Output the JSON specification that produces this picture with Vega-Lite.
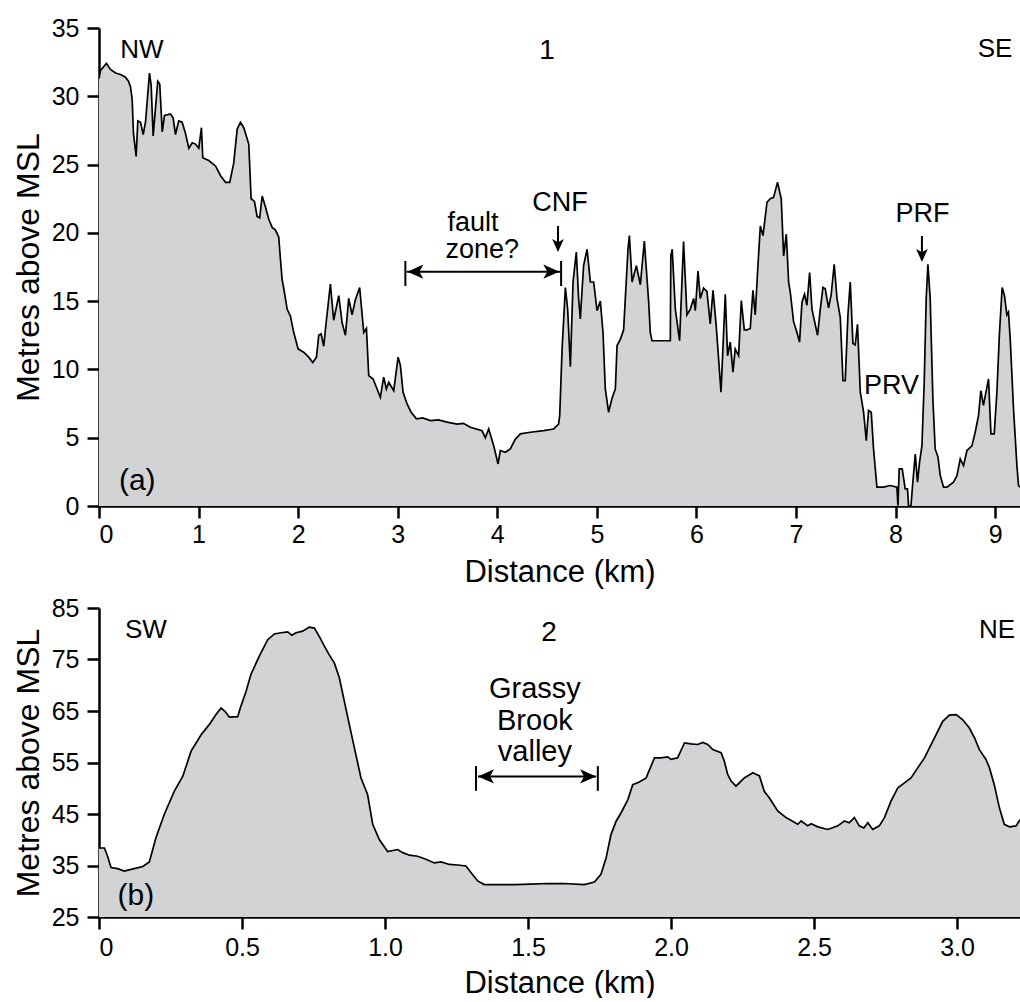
{
  "$schema": "https://vega.github.io/schema/vega-lite/v6.json",
  "background": "white",
  "padding": {"left": 12, "top": 16, "right": 0, "bottom": 0},
  "spacing": 9,
  "config": {
    "font": "Liberation Sans",
    "view": {"stroke": null},
    "axis": {
      "domainColor": "black", "domainWidth": 2.5, "tickColor": "black", "tickWidth": 2.5, "tickSize": 12,
      "labelColor": "black", "labelFontSize": 25, "labelFont": "Liberation Sans",
      "titleColor": "black", "titleFontSize": 31, "titleFontWeight": "normal", "titleFont": "Liberation Sans",
      "grid": false
    },
    "axisY": {"titleFontSize": 32},
    "text": {"font": "Liberation Sans", "color": "black", "baseline": "alphabetic"}
  },
  "datasets": {
    "profileA": [
      {"km":0,"elev":31.3},{"km":0.015,"elev":31.9},{"km":0.075,"elev":32.4},{"km":0.115,"elev":31.96},{"km":0.166,"elev":31.7},{"km":0.216,"elev":31.6},{"km":0.266,"elev":31.4},{"km":0.296,"elev":31.1},{"km":0.316,"elev":30.7},{"km":0.333,"elev":29.8},{"km":0.346,"elev":27.3},{"km":0.373,"elev":25.6},{"km":0.39,"elev":28.2},{"km":0.417,"elev":28.1},{"km":0.444,"elev":27.2},{"km":0.467,"elev":28.1},{"km":0.507,"elev":31.7},{"km":0.524,"elev":30.8},{"km":0.544,"elev":27.1},{"km":0.567,"elev":29.1},{"km":0.59,"elev":31.1},{"km":0.61,"elev":30.9},{"km":0.635,"elev":27.4},{"km":0.658,"elev":28.6},{"km":0.718,"elev":28.7},{"km":0.745,"elev":28.4},{"km":0.768,"elev":27.2},{"km":0.801,"elev":28.2},{"km":0.835,"elev":28.1},{"km":0.868,"elev":27.3},{"km":0.902,"elev":26.2},{"km":0.936,"elev":26.6},{"km":0.969,"elev":26.5},{"km":1.002,"elev":26.2},{"km":1.029,"elev":27.7},{"km":1.042,"elev":25.5},{"km":1.102,"elev":25.3},{"km":1.17,"elev":24.9},{"km":1.22,"elev":24.2},{"km":1.27,"elev":23.7},{"km":1.313,"elev":23.7},{"km":1.353,"elev":25.1},{"km":1.388,"elev":27.6},{"km":1.421,"elev":28.1},{"km":1.454,"elev":27.7},{"km":1.504,"elev":26.5},{"km":1.528,"elev":22.5},{"km":1.561,"elev":22.3},{"km":1.588,"elev":21.2},{"km":1.614,"elev":21.1},{"km":1.639,"elev":22.7},{"km":1.672,"elev":21.9},{"km":1.705,"elev":21.0},{"km":1.739,"elev":20.4},{"km":1.772,"elev":20.2},{"km":1.805,"elev":19.7},{"km":1.822,"elev":18.1},{"km":1.839,"elev":16.6},{"km":1.862,"elev":15.65},{"km":1.89,"elev":14.4},{"km":1.923,"elev":13.9},{"km":1.956,"elev":12.7},{"km":2.0,"elev":11.5},{"km":2.056,"elev":11.26},{"km":2.106,"elev":10.9},{"km":2.147,"elev":10.5},{"km":2.184,"elev":10.9},{"km":2.207,"elev":12.5},{"km":2.231,"elev":12.6},{"km":2.257,"elev":11.7},{"km":2.284,"elev":13.6},{"km":2.324,"elev":16.25},{"km":2.357,"elev":13.6},{"km":2.408,"elev":15.4},{"km":2.442,"elev":13.4},{"km":2.475,"elev":12.5},{"km":2.508,"elev":15.2},{"km":2.542,"elev":14.0},{"km":2.575,"elev":15.1},{"km":2.618,"elev":16.0},{"km":2.659,"elev":12.7},{"km":2.686,"elev":13.0},{"km":2.709,"elev":9.55},{"km":2.753,"elev":9.3},{"km":2.793,"elev":8.57},{"km":2.826,"elev":7.96},{"km":2.859,"elev":9.43},{"km":2.886,"elev":8.57},{"km":2.91,"elev":9.06},{"km":2.96,"elev":8.45},{"km":3.004,"elev":10.9},{"km":3.027,"elev":10.3},{"km":3.054,"elev":8.33},{"km":3.094,"elev":7.47},{"km":3.135,"elev":6.87},{"km":3.188,"elev":6.38},{"km":3.25,"elev":6.45},{"km":3.328,"elev":6.25},{"km":3.41,"elev":6.3},{"km":3.496,"elev":6.14},{"km":3.596,"elev":6.0},{"km":3.66,"elev":6.05},{"km":3.73,"elev":5.77},{"km":3.847,"elev":5.52},{"km":3.88,"elev":5.0},{"km":3.914,"elev":5.64},{"km":3.964,"elev":4.42},{"km":4.008,"elev":3.08},{"km":4.031,"elev":4.06},{"km":4.081,"elev":3.94},{"km":4.131,"elev":4.18},{"km":4.182,"elev":4.9},{"km":4.232,"elev":5.28},{"km":4.332,"elev":5.4},{"km":4.466,"elev":5.52},{"km":4.566,"elev":5.64},{"km":4.616,"elev":6.0},{"km":4.627,"elev":6.62},{"km":4.651,"elev":11.5},{"km":4.684,"elev":16.0},{"km":4.707,"elev":14.4},{"km":4.734,"elev":10.2},{"km":4.761,"elev":16.4},{"km":4.794,"elev":18.6},{"km":4.817,"elev":15.2},{"km":4.834,"elev":13.7},{"km":4.867,"elev":17.6},{"km":4.902,"elev":18.8},{"km":4.935,"elev":16.4},{"km":4.968,"elev":16.4},{"km":5.002,"elev":14.3},{"km":5.035,"elev":15.0},{"km":5.062,"elev":12.7},{"km":5.085,"elev":8.57},{"km":5.118,"elev":6.87},{"km":5.153,"elev":7.9},{"km":5.186,"elev":8.57},{"km":5.203,"elev":11.75},{"km":5.236,"elev":12.2},{"km":5.269,"elev":12.9},{"km":5.286,"elev":15.2},{"km":5.313,"elev":18.8},{"km":5.327,"elev":19.8},{"km":5.354,"elev":16.4},{"km":5.397,"elev":17.6},{"km":5.437,"elev":16.2},{"km":5.477,"elev":19.4},{"km":5.52,"elev":15.0},{"km":5.537,"elev":12.7},{"km":5.554,"elev":12.1},{"km":5.738,"elev":12.1},{"km":5.743,"elev":18.3},{"km":5.757,"elev":18.8},{"km":5.788,"elev":14.43},{"km":5.831,"elev":12.1},{"km":5.871,"elev":19.36},{"km":5.905,"elev":14.0},{"km":5.938,"elev":14.4},{"km":5.972,"elev":15.2},{"km":5.989,"elev":14.3},{"km":6.016,"elev":17.2},{"km":6.039,"elev":15.2},{"km":6.072,"elev":15.96},{"km":6.106,"elev":15.7},{"km":6.139,"elev":13.33},{"km":6.167,"elev":15.8},{"km":6.2,"elev":13.1},{"km":6.247,"elev":8.33},{"km":6.29,"elev":15.5},{"km":6.313,"elev":11.0},{"km":6.34,"elev":12.0},{"km":6.367,"elev":9.8},{"km":6.39,"elev":11.5},{"km":6.424,"elev":11.0},{"km":6.451,"elev":15.04},{"km":6.481,"elev":12.9},{"km":6.508,"elev":12.9},{"km":6.541,"elev":13.0},{"km":6.568,"elev":15.8},{"km":6.591,"elev":14.0},{"km":6.614,"elev":17.1},{"km":6.642,"elev":20.5},{"km":6.669,"elev":19.8},{"km":6.709,"elev":22.24},{"km":6.742,"elev":22.5},{"km":6.775,"elev":22.6},{"km":6.815,"elev":23.7},{"km":6.852,"elev":22.5},{"km":6.876,"elev":18.3},{"km":6.903,"elev":19.9},{"km":6.926,"elev":16.4},{"km":6.943,"elev":15.65},{"km":6.976,"elev":13.5},{"km":7.01,"elev":12.7},{"km":7.036,"elev":12.0},{"km":7.06,"elev":14.9},{"km":7.086,"elev":15.5},{"km":7.11,"elev":14.7},{"km":7.137,"elev":17.1},{"km":7.161,"elev":14.4},{"km":7.184,"elev":13.6},{"km":7.217,"elev":12.5},{"km":7.244,"elev":14.4},{"km":7.271,"elev":16.0},{"km":7.294,"elev":15.9},{"km":7.327,"elev":14.5},{"km":7.354,"elev":15.5},{"km":7.384,"elev":17.7},{"km":7.412,"elev":15.2},{"km":7.445,"elev":13.8},{"km":7.472,"elev":9.18},{"km":7.495,"elev":9.18},{"km":7.522,"elev":14.0},{"km":7.545,"elev":16.4},{"km":7.572,"elev":11.9},{"km":7.595,"elev":11.8},{"km":7.618,"elev":13.3},{"km":7.646,"elev":8.33},{"km":7.679,"elev":6.87},{"km":7.706,"elev":4.79},{"km":7.729,"elev":6.99},{"km":7.756,"elev":6.87},{"km":7.779,"elev":4.18},{"km":7.813,"elev":1.38},{"km":7.88,"elev":1.38},{"km":7.947,"elev":1.5},{"km":8.014,"elev":1.38},{"km":8.024,"elev":0.03},{"km":8.037,"elev":2.72},{"km":8.067,"elev":2.72},{"km":8.097,"elev":1.26},{"km":8.12,"elev":1.26},{"km":8.131,"elev":0},{"km":8.155,"elev":0},{"km":8.171,"elev":1.5},{"km":8.198,"elev":3.8},{"km":8.221,"elev":1.75},{"km":8.241,"elev":3.2},{"km":8.265,"elev":4.4},{"km":8.288,"elev":9.06},{"km":8.308,"elev":15.2},{"km":8.325,"elev":17.7},{"km":8.348,"elev":15.2},{"km":8.375,"elev":7.84},{"km":8.398,"elev":4.18},{"km":8.426,"elev":3.6},{"km":8.449,"elev":2.23},{"km":8.482,"elev":1.38},{"km":8.516,"elev":1.38},{"km":8.582,"elev":1.74},{"km":8.617,"elev":2.23},{"km":8.65,"elev":3.45},{"km":8.683,"elev":2.96},{"km":8.717,"elev":4.06},{"km":8.767,"elev":4.4},{"km":8.8,"elev":5.4},{"km":8.833,"elev":6.6},{"km":8.857,"elev":8.45},{"km":8.883,"elev":7.37},{"km":8.911,"elev":8.45},{"km":8.934,"elev":9.3},{"km":8.958,"elev":5.28},{"km":8.991,"elev":5.28},{"km":9.018,"elev":8.33},{"km":9.044,"elev":12.7},{"km":9.071,"elev":16.0},{"km":9.094,"elev":15.4},{"km":9.118,"elev":14.0},{"km":9.134,"elev":14.2},{"km":9.152,"elev":12.2},{"km":9.185,"elev":7.1},{"km":9.219,"elev":2.96},{"km":9.235,"elev":1.5},{"km":9.25,"elev":1.38}
    ],
    "profileB": [
      {"km":0,"elev":38.4},{"km":0.019,"elev":38.4},{"km":0.03,"elev":36.8},{"km":0.042,"elev":34.6},{"km":0.065,"elev":34.4},{"km":0.088,"elev":33.9},{"km":0.123,"elev":34.4},{"km":0.153,"elev":34.8},{"km":0.176,"elev":35.67},{"km":0.199,"elev":40.4},{"km":0.228,"elev":44.9},{"km":0.263,"elev":49.4},{"km":0.293,"elev":52.35},{"km":0.322,"elev":57.2},{"km":0.357,"elev":60.4},{"km":0.386,"elev":62.4},{"km":0.409,"elev":64.3},{"km":0.427,"elev":65.6},{"km":0.441,"elev":64.9},{"km":0.456,"elev":63.8},{"km":0.485,"elev":63.9},{"km":0.494,"elev":65.6},{"km":0.514,"elev":68.8},{"km":0.531,"elev":72.1},{"km":0.56,"elev":75.6},{"km":0.59,"elev":78.85},{"km":0.613,"elev":79.96},{"km":0.636,"elev":80.2},{"km":0.66,"elev":80.35},{"km":0.674,"elev":79.7},{"km":0.689,"elev":80.2},{"km":0.712,"elev":80.5},{"km":0.735,"elev":81.3},{"km":0.753,"elev":81.1},{"km":0.77,"elev":79.5},{"km":0.788,"elev":77.6},{"km":0.805,"elev":75.9},{"km":0.823,"elev":74.3},{"km":0.84,"elev":71.5},{"km":0.87,"elev":63.7},{"km":0.893,"elev":57.8},{"km":0.916,"elev":52.0},{"km":0.939,"elev":48.8},{"km":0.957,"elev":43.0},{"km":0.98,"elev":40.05},{"km":1.009,"elev":37.7},{"km":1.044,"elev":38.1},{"km":1.062,"elev":37.5},{"km":1.085,"elev":37.0},{"km":1.114,"elev":36.8},{"km":1.143,"elev":36.2},{"km":1.172,"elev":35.5},{"km":1.196,"elev":35.7},{"km":1.225,"elev":35.2},{"km":1.254,"elev":35.1},{"km":1.283,"elev":34.9},{"km":1.301,"elev":33.6},{"km":1.324,"elev":32.0},{"km":1.347,"elev":31.3},{"km":1.394,"elev":31.3},{"km":1.452,"elev":31.3},{"km":1.51,"elev":31.4},{"km":1.569,"elev":31.5},{"km":1.627,"elev":31.5},{"km":1.697,"elev":31.3},{"km":1.732,"elev":31.8},{"km":1.755,"elev":33.3},{"km":1.773,"elev":36.5},{"km":1.79,"elev":41.0},{"km":1.808,"elev":43.6},{"km":1.825,"elev":45.2},{"km":1.849,"elev":47.8},{"km":1.866,"elev":50.7},{"km":1.889,"elev":51.2},{"km":1.913,"elev":52.0},{"km":1.918,"elev":52.7},{"km":1.942,"elev":55.9},{"km":1.965,"elev":55.9},{"km":1.988,"elev":56.1},{"km":2.0,"elev":55.6},{"km":2.023,"elev":55.9},{"km":2.047,"elev":58.8},{"km":2.07,"elev":58.6},{"km":2.093,"elev":58.5},{"km":2.111,"elev":58.9},{"km":2.128,"elev":58.5},{"km":2.146,"elev":57.5},{"km":2.175,"elev":56.9},{"km":2.186,"elev":55.3},{"km":2.198,"elev":52.7},{"km":2.21,"elev":51.4},{"km":2.227,"elev":50.4},{"km":2.256,"elev":52.0},{"km":2.286,"elev":53.0},{"km":2.309,"elev":52.4},{"km":2.326,"elev":49.4},{"km":2.344,"elev":48.1},{"km":2.373,"elev":45.6},{"km":2.402,"elev":44.3},{"km":2.443,"elev":43.0},{"km":2.455,"elev":43.65},{"km":2.478,"elev":42.7},{"km":2.49,"elev":43.1},{"km":2.513,"elev":42.5},{"km":2.548,"elev":42.0},{"km":2.583,"elev":42.7},{"km":2.606,"elev":43.65},{"km":2.623,"elev":43.3},{"km":2.641,"elev":44.3},{"km":2.658,"elev":42.7},{"km":2.674,"elev":42.3},{"km":2.688,"elev":43.3},{"km":2.705,"elev":42.0},{"km":2.728,"elev":42.7},{"km":2.746,"elev":44.3},{"km":2.769,"elev":47.5},{"km":2.793,"elev":50.1},{"km":2.816,"elev":51.05},{"km":2.839,"elev":52.0},{"km":2.863,"elev":54.0},{"km":2.886,"elev":55.9},{"km":2.921,"elev":59.8},{"km":2.95,"elev":63.0},{"km":2.973,"elev":64.2},{"km":2.997,"elev":64.3},{"km":3.02,"elev":63.3},{"km":3.043,"elev":61.7},{"km":3.061,"elev":59.8},{"km":3.078,"elev":57.5},{"km":3.101,"elev":55.6},{"km":3.113,"elev":54.0},{"km":3.13,"elev":50.7},{"km":3.148,"elev":46.2},{"km":3.165,"elev":43.0},{"km":3.183,"elev":42.5},{"km":3.206,"elev":42.7},{"km":3.22,"elev":43.9}
    ]
  },
  "vconcat": [
    {
      "width": 921,
      "height": 478,
      "layer": [
        {
          "data": {"name": "profileA"},
          "mark": {"type": "area", "color": "#d1d3d4", "clip": true},
          "encoding": {
            "x": {"field": "km", "type": "quantitative", "scale": {"domain": [0, 9.25], "nice": false, "zero": false},
                  "axis": {"title": "Distance (km)", "values": [0,1,2,3,4,5,6,7,8,9], "format": "d", "labelPadding": 4, "titlePadding": 10}},
            "y": {"field": "elev", "type": "quantitative", "scale": {"domain": [0, 35], "nice": false},
                  "axis": {"title": "Metres above MSL", "values": [0,5,10,15,20,25,30,35], "format": "d", "labelPadding": 8, "titlePadding": 6}}
          }
        },
        {
          "data": {"name": "profileA"},
          "mark": {"type": "line", "color": "black", "strokeWidth": 1.7, "clip": true},
          "encoding": {
            "x": {"field": "km", "type": "quantitative"},
            "y": {"field": "elev", "type": "quantitative"}
          }
        },
        {
          "mark": {"type": "rule", "color": "black", "strokeWidth": 2.5},
          "encoding": {"y": {"datum": 35, "type": "quantitative"}}
        },
        {
          "data": {"values": [{"km":0.43,"elev":32.78,"label":"NW"},{"km":9.0,"elev":32.85,"label":"SE"}]},
          "mark": {"type": "text", "fontSize": 26, "align": "center"},
          "encoding": {"x": {"field": "km", "type": "quantitative"}, "y": {"field": "elev", "type": "quantitative"}, "text": {"field": "label"}}
        },
        {
          "data": {"values": [{"km":4.5,"elev":32.73,"label":"1"}]},
          "mark": {"type": "text", "fontSize": 28, "align": "center"},
          "encoding": {"x": {"field": "km", "type": "quantitative"}, "y": {"field": "elev", "type": "quantitative"}, "text": {"field": "label"}}
        },
        {
          "data": {"values": [{"km":4.63,"elev":21.63,"label":"CNF"},{"km":8.27,"elev":20.82,"label":"PRF"},{"km":7.96,"elev":8.21,"label":"PRV"}]},
          "mark": {"type": "text", "fontSize": 27, "align": "center"},
          "encoding": {"x": {"field": "km", "type": "quantitative"}, "y": {"field": "elev", "type": "quantitative"}, "text": {"field": "label"}}
        },
        {
          "data": {"values": [{"km":3.5,"elev":20.16,"label":"fault"},{"km":3.48,"elev":18.16,"label":"zone?"}]},
          "mark": {"type": "text", "fontSize": 27, "align": "left"},
          "encoding": {"x": {"field": "km", "type": "quantitative"}, "y": {"field": "elev", "type": "quantitative"}, "text": {"field": "label"}}
        },
        {
          "data": {"values": [{"km":0.384,"elev":1.2,"label":"(a)"}]},
          "mark": {"type": "text", "fontSize": 30, "align": "center"},
          "encoding": {"x": {"field": "km", "type": "quantitative"}, "y": {"field": "elev", "type": "quantitative"}, "text": {"field": "label"}}
        },
        {
          "data": {"values": [
            {"km":3.09,"elev":17.16,"km2":4.63,"elev2":17.16},
            {"km":3.077,"elev":17.94,"km2":3.077,"elev2":16.11},
            {"km":4.641,"elev":17.94,"km2":4.641,"elev2":16.11},
            {"km":4.61,"elev":20.5,"km2":4.61,"elev2":18.9},
            {"km":8.265,"elev":19.77,"km2":8.265,"elev2":18.2}
          ]},
          "mark": {"type": "rule", "color": "black", "strokeWidth": 2},
          "encoding": {"x": {"field": "km", "type": "quantitative"}, "x2": {"field": "km2"}, "y": {"field": "elev", "type": "quantitative"}, "y2": {"field": "elev2"}}
        },
        {
          "data": {"values": [{"km":3.097,"elev":17.16}]},
          "mark": {"type": "point", "shape": "M0,0L2,-0.9L1.5,0L2,0.9Z", "filled": true, "color": "black", "opacity": 1, "size": 256, "strokeWidth": 0},
          "encoding": {"x": {"field": "km", "type": "quantitative"}, "y": {"field": "elev", "type": "quantitative"}}
        },
        {
          "data": {"values": [{"km":4.623,"elev":17.16}]},
          "mark": {"type": "point", "shape": "M0,0L-2,-0.9L-1.5,0L-2,0.9Z", "filled": true, "color": "black", "opacity": 1, "size": 256, "strokeWidth": 0},
          "encoding": {"x": {"field": "km", "type": "quantitative"}, "y": {"field": "elev", "type": "quantitative"}}
        },
        {
          "data": {"values": [{"km":4.61,"elev":18.6},{"km":8.265,"elev":17.87}]},
          "mark": {"type": "point", "shape": "M0,0L-0.9,-2L0,-1.5L0.9,-2Z", "filled": true, "color": "black", "opacity": 1, "size": 169, "strokeWidth": 0},
          "encoding": {"x": {"field": "km", "type": "quantitative"}, "y": {"field": "elev", "type": "quantitative"}}
        }
      ]
    },
    {
      "width": 921,
      "height": 309,
      "layer": [
        {
          "data": {"name": "profileB"},
          "mark": {"type": "area", "color": "#d1d3d4", "clip": true},
          "encoding": {
            "x": {"field": "km", "type": "quantitative", "scale": {"domain": [0, 3.22], "nice": false, "zero": false},
                  "axis": {"title": "Distance (km)", "values": [0,0.5,1,1.5,2,2.5,3], "labelExpr": "datum.value == 0 ? '0' : format(datum.value, '.1f')", "labelPadding": 6, "titlePadding": 8}},
            "y": {"field": "elev", "type": "quantitative", "scale": {"domain": [25, 85], "nice": false, "zero": false},
                  "axis": {"title": "Metres above MSL", "values": [25,35,45,55,65,75,85], "format": "d", "labelPadding": 8, "titlePadding": 6}}
          }
        },
        {
          "data": {"name": "profileB"},
          "mark": {"type": "line", "color": "black", "strokeWidth": 1.7, "clip": true},
          "encoding": {
            "x": {"field": "km", "type": "quantitative"},
            "y": {"field": "elev", "type": "quantitative"}
          }
        },
        {
          "mark": {"type": "rule", "color": "black", "strokeWidth": 2.5},
          "encoding": {"y": {"datum": 85, "type": "quantitative"}}
        },
        {
          "data": {"values": [{"km":0.164,"elev":79.18,"label":"SW"},{"km":3.14,"elev":79.18,"label":"NE"}]},
          "mark": {"type": "text", "fontSize": 26, "align": "center"},
          "encoding": {"x": {"field": "km", "type": "quantitative"}, "y": {"field": "elev", "type": "quantitative"}, "text": {"field": "label"}}
        },
        {
          "data": {"values": [{"km":1.573,"elev":78.54,"label":"2"}]},
          "mark": {"type": "text", "fontSize": 28, "align": "center"},
          "encoding": {"x": {"field": "km", "type": "quantitative"}, "y": {"field": "elev", "type": "quantitative"}, "text": {"field": "label"}}
        },
        {
          "data": {"values": [{"km":1.524,"elev":67.54,"label":"Grassy"},{"km":1.524,"elev":61.4,"label":"Brook"},{"km":1.524,"elev":55.26,"label":"valley"}]},
          "mark": {"type": "text", "fontSize": 29, "align": "center"},
          "encoding": {"x": {"field": "km", "type": "quantitative"}, "y": {"field": "elev", "type": "quantitative"}, "text": {"field": "label"}}
        },
        {
          "data": {"values": [{"km":0.129,"elev":27.25,"label":"(b)"}]},
          "mark": {"type": "text", "fontSize": 30, "align": "center"},
          "encoding": {"x": {"field": "km", "type": "quantitative"}, "y": {"field": "elev", "type": "quantitative"}, "text": {"field": "label"}}
        },
        {
          "data": {"values": [
            {"km":1.325,"elev":52.3,"km2":1.738,"elev2":52.3},
            {"km":1.318,"elev":54.3,"km2":1.318,"elev2":49.5},
            {"km":1.744,"elev":54.3,"km2":1.744,"elev2":49.5}
          ]},
          "mark": {"type": "rule", "color": "black", "strokeWidth": 2},
          "encoding": {"x": {"field": "km", "type": "quantitative"}, "x2": {"field": "km2"}, "y": {"field": "elev", "type": "quantitative"}, "y2": {"field": "elev2"}}
        },
        {
          "data": {"values": [{"km":1.325,"elev":52.3}]},
          "mark": {"type": "point", "shape": "M0,0L2,-0.9L1.5,0L2,0.9Z", "filled": true, "color": "black", "opacity": 1, "size": 256, "strokeWidth": 0},
          "encoding": {"x": {"field": "km", "type": "quantitative"}, "y": {"field": "elev", "type": "quantitative"}}
        },
        {
          "data": {"values": [{"km":1.738,"elev":52.3}]},
          "mark": {"type": "point", "shape": "M0,0L-2,-0.9L-1.5,0L-2,0.9Z", "filled": true, "color": "black", "opacity": 1, "size": 256, "strokeWidth": 0},
          "encoding": {"x": {"field": "km", "type": "quantitative"}, "y": {"field": "elev", "type": "quantitative"}}
        }
      ]
    }
  ]
}
